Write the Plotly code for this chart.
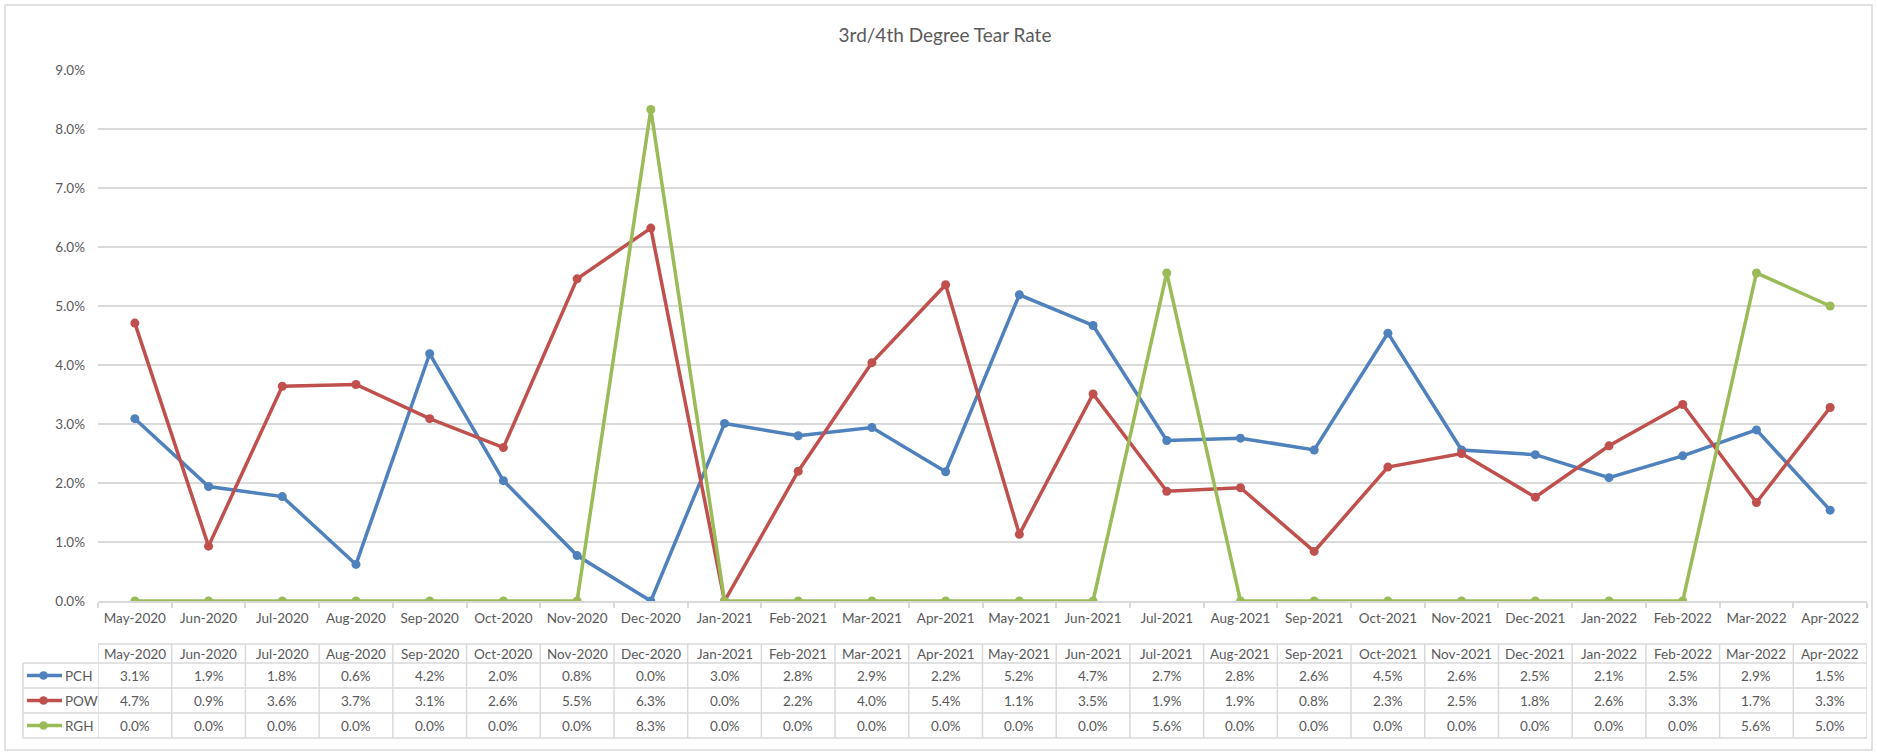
import plotly.graph_objects as go

categories = ["May-2020", "Jun-2020", "Jul-2020", "Aug-2020", "Sep-2020", "Oct-2020",
              "Nov-2020", "Dec-2020", "Jan-2021", "Feb-2021", "Mar-2021", "Apr-2021",
              "May-2021", "Jun-2021", "Jul-2021", "Aug-2021", "Sep-2021", "Oct-2021",
              "Nov-2021", "Dec-2021", "Jan-2022", "Feb-2022", "Mar-2022", "Apr-2022"]

pch = [3.09, 1.94, 1.77, 0.62, 4.19, 2.04, 0.77, 0.0, 3.01, 2.80, 2.94, 2.19,
       5.19, 4.67, 2.72, 2.76, 2.56, 4.54, 2.56, 2.48, 2.09, 2.46, 2.90, 1.54]
pow_ = [4.71, 0.93, 3.64, 3.67, 3.09, 2.60, 5.46, 6.32, 0.0, 2.20, 4.04, 5.36,
        1.13, 3.51, 1.86, 1.92, 0.84, 2.27, 2.50, 1.76, 2.63, 3.33, 1.67, 3.28]
rgh = [0.0, 0.0, 0.0, 0.0, 0.0, 0.0, 0.0, 8.33, 0.0, 0.0, 0.0, 0.0,
       0.0, 0.0, 5.56, 0.0, 0.0, 0.0, 0.0, 0.0, 0.0, 0.0, 5.56, 5.00]

series_names = ["PCH", "POW", "RGH"]
series_values = [pch, pow_, rgh]
series_colors = ["#4F81BD", "#C0504D", "#9BBB59"]

title_text = "3rd/4th Degree Tear Rate"
y_ticks = [0, 1, 2, 3, 4, 5, 6, 7, 8, 9]

W, H = 1877, 754
L, R, T, B = 98, 10, 70, 153
FONT = "Lato, 'Open Sans', sans-serif"
TXT = "#595959"
GRID = "#d9d9d9"


def px_x(px):
    return (px - L) / (W - L - R)


def px_y(py):
    return (H - B - py) / (H - T - B)


fig = go.Figure()
for name, vals, col in zip(series_names, series_values, series_colors):
    fig.add_trace(go.Scatter(
        x=categories, y=vals, name=name, mode="lines+markers",
        line=dict(color=col, width=3.5),
        marker=dict(color=col, size=9),
        showlegend=False,
    ))

shapes = []
annotations = []

# outer chart border
shapes.append(dict(type="rect", xref="paper", yref="paper",
                   x0=px_x(5), x1=px_x(1872), y0=px_y(750), y1=px_y(5),
                   line=dict(color=GRID, width=1.5), layer="below"))

# data table geometry (pixel rows)
header_top, header_bot = 644, 663
row_h = 25
row_tops = [header_bot + i * row_h for i in range(len(series_names))]
table_bot = row_tops[-1] + row_h
n = len(categories)

shapes.append(dict(type="line", xref="paper", yref="paper",
                   x0=0, x1=1, y0=px_y(header_top), y1=px_y(header_top),
                   line=dict(color=GRID, width=1.5)))
for yy in row_tops + [table_bot]:
    shapes.append(dict(type="line", xref="paper", yref="paper",
                       x0=px_x(23), x1=1, y0=px_y(yy), y1=px_y(yy),
                       line=dict(color=GRID, width=1.5)))
shapes.append(dict(type="line", xref="paper", yref="paper",
                   x0=px_x(23), x1=px_x(23), y0=px_y(header_bot), y1=px_y(table_bot),
                   line=dict(color=GRID, width=1.5)))
for k in range(n + 1):
    shapes.append(dict(type="line", xref="x", yref="paper",
                       x0=k - 0.5, x1=k - 0.5, y0=px_y(header_top), y1=px_y(table_bot),
                       line=dict(color=GRID, width=1.5)))

tfont = dict(family=FONT, size=13.5, color=TXT)
for c in categories:
    annotations.append(dict(x=c, xref="x", y=px_y((header_top + header_bot) / 2 + 0.5), yref="paper",
                            text=c, showarrow=False, font=tfont,
                            xanchor="center", yanchor="middle"))
for r, (name, vals, col) in enumerate(zip(series_names, series_values, series_colors)):
    yc = row_tops[r] + row_h / 2
    for c, v in zip(categories, vals):
        annotations.append(dict(x=c, xref="x", y=px_y(yc), yref="paper",
                                text=f"{v:.1f}%", showarrow=False, font=tfont,
                                xanchor="center", yanchor="middle"))
    shapes.append(dict(type="line", xref="paper", yref="paper",
                       x0=px_x(27), x1=px_x(62), y0=px_y(yc), y1=px_y(yc),
                       line=dict(color=col, width=3.5)))
    shapes.append(dict(type="circle", xref="paper", yref="paper",
                       x0=px_x(43.5 - 4.3), x1=px_x(43.5 + 4.3),
                       y0=px_y(yc + 4.3), y1=px_y(yc - 4.3),
                       fillcolor=col, line=dict(color=col, width=0)))
    annotations.append(dict(x=px_x(62.5), xref="paper", y=px_y(yc), yref="paper",
                            text=name, showarrow=False, font=tfont,
                            xanchor="left", yanchor="middle"))

fig.update_layout(
    width=W, height=H,
    margin=dict(l=L, r=R, t=T, b=B, pad=0),
    paper_bgcolor="white", plot_bgcolor="white",
    title=dict(text=title_text, x=945 / W, xref="container", xanchor="center",
               y=(H - 35) / H, yref="container", yanchor="middle",
               font=dict(family=FONT, size=19, color=TXT)),
    font=dict(family=FONT, color=TXT),
    xaxis=dict(type="category", categoryorder="array", categoryarray=categories,
               range=[-0.5, n - 0.5], showgrid=False, showline=True,
               linecolor=GRID, linewidth=1.5, ticks="outside", tickson="boundaries",
               ticklen=5, tickcolor=GRID, tickwidth=1.5,
               tickfont=dict(family=FONT, size=13.5, color=TXT),
               ticklabelstandoff=4, fixedrange=True),
    yaxis=dict(range=[0, 9], tickvals=y_ticks, ticktext=[f"{t:.1f}%" for t in y_ticks],
               showgrid=True, gridcolor=GRID, gridwidth=1.5, zeroline=False,
               showline=False, ticks="", tickfont=dict(family=FONT, size=13.5, color=TXT),
               ticklabelstandoff=12, fixedrange=True),
    shapes=shapes, annotations=annotations,
)

fig.write_html("out.html", config={"displayModeBar": False},
               post_script="document.body.style.margin='0';document.body.style.overflow='hidden';")
